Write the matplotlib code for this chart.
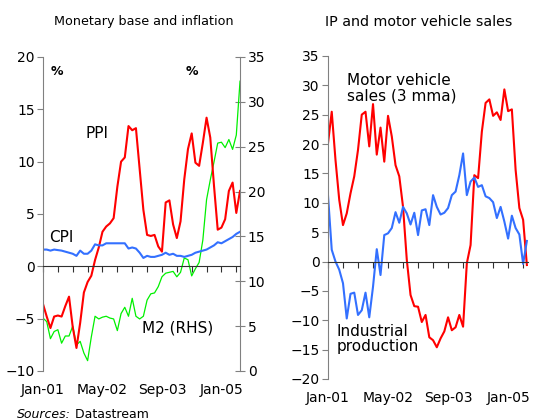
import numpy as np
import matplotlib.pyplot as plt

# monthly data, Jan-01 .. Jun-05
months = np.arange(54)
tick_labels = ['Jan-01', 'May-02', 'Sep-03', 'Jan-05']

# left chart: PPI, CPI (%, LHS), M2 (%, RHS)
ppi = [-3.6, -4.8, -5.9, -4.8, -4.7, -4.8, -3.8, -2.9, -5.8, -7.8,
       -5.4, -2.5, -1.5, -0.9, 0.6, 1.8, 3.3, 3.8, 4.1, 4.6,
       7.6, 10.0, 10.4, 13.4, 13.0, 13.2, 9.3, 5.4, 3.0, 2.9,
       3.0, 1.9, 1.4, 6.1, 6.3, 4.0, 2.7, 4.3, 8.3, 11.2,
       12.7, 9.9, 9.6, 11.8, 14.2, 12.3, 7.7, 3.5, 3.7, 4.5,
       7.2, 8.0, 5.1, 7.2]
cpi = [1.6, 1.6, 1.5, 1.6, 1.55, 1.5, 1.4, 1.3, 1.2, 1.0,
       1.5, 1.2, 1.2, 1.5, 2.1, 2.0, 2.0, 2.2, 2.2, 2.2,
       2.2, 2.2, 2.2, 1.7, 1.8, 1.7, 1.3, 0.8, 1.0, 0.9,
       0.9, 1.0, 1.1, 1.3, 1.1, 1.2, 1.0, 1.0, 0.9, 1.0,
       1.1, 1.3, 1.4, 1.5, 1.6, 1.8, 2.0, 2.3, 2.2, 2.4,
       2.6, 2.8, 3.1, 3.3]
m2 = [5.9, 5.5, 3.6, 4.4, 4.6, 3.1, 3.9, 3.9, 5.0, 2.9,
      3.3, 2.0, 1.15, 3.8, 6.1, 5.8, 6.0, 6.1, 5.9, 5.8,
      4.5, 6.4, 7.1, 6.1, 8.1, 6.1, 5.8, 6.1, 7.9, 8.6,
      8.7, 9.4, 10.5, 10.9, 11.0, 11.1, 10.5, 11.0, 12.6, 12.4,
      10.6, 11.4, 12.1, 14.6, 19.1, 21.3, 23.3, 25.4, 25.5, 24.9,
      25.8, 24.7, 26.3, 32.3]

# right chart: motor vehicle sales (3mma), industrial production
motor = [20.1, 25.5, 17.3, 10.5, 6.2, 8.2, 11.6, 14.5, 19.0, 25.0,
         25.5, 19.6, 26.8, 18.2, 22.8, 17.0, 24.8, 21.3, 16.4, 14.5,
         9.3, 0.3, -5.7, -7.6, -7.7, -10.3, -9.1, -12.9, -13.4, -14.6,
         -13.1, -11.9, -9.5, -11.7, -11.2, -9.1, -11.1, -0.3, 2.8, 14.7,
         14.2, 22.1, 27.0, 27.6, 24.8, 25.4, 24.1, 29.3, 25.6, 25.9,
         15.6, 9.1, 7.1, -0.6]
ip = [11.3, 2.0, 0.0, -1.4, -3.7, -9.7, -5.5, -5.3, -9.1, -8.3,
      -5.3, -9.5, -4.3, 2.1, -2.3, 4.5, 4.8, 5.7, 8.4, 6.6,
      9.3, 8.2, 6.3, 8.3, 4.5, 8.7, 8.9, 6.2, 11.3, 9.3,
      8.0, 8.3, 9.1, 11.3, 11.9, 14.7, 18.4, 11.3, 13.6, 14.3,
      12.7, 13.0, 11.1, 10.8, 10.1, 7.4, 9.3, 6.8, 3.9, 7.8,
      5.7, 4.6, -0.4, 3.5]

RED = '#ff0000'
BLUE = '#3370ff'
GREEN = '#00f000'
GREY = '#808080'

plt.rcParams['font.family'] = 'DejaVu Sans'
fig = plt.figure(figsize=(5.45, 4.19), dpi=100)


def style_x(ax, xmax):
    # tick marks sit on the zero line, labels stay below the plot
    ax.set_xlim(0, xmax)
    ax.spines['top'].set_visible(False)
    ax.spines['bottom'].set_position(('data', 0))
    ax.spines['bottom'].set_color('#303030')
    ax.set_xticks(np.arange(0, 53, 4))
    ax.tick_params(axis='x', direction='out', length=4, color='#303030',
                   labelbottom=False)
    sec = ax.secondary_xaxis('bottom')
    sec.spines['bottom'].set_visible(False)
    sec.set_xticks([0, 16, 32, 48])
    sec.set_xticklabels(tick_labels, fontsize=10)
    sec.tick_params(length=0, pad=9)
    ax.spines['left'].set_color(GREY)
    ax.tick_params(axis='y', labelsize=10, length=4, color=GREY, pad=2)


# ---- left: monetary base and inflation
ax = fig.add_axes([0.0789, 0.1146, 0.3615, 0.7494])
ax2 = ax.twinx()
ax2.plot(months, m2, color=GREEN, lw=0.9)
ax.plot(months, ppi, color=RED, lw=1.5)
ax.plot(months, cpi, color=BLUE, lw=1.5)
ax.set_zorder(ax2.get_zorder() + 1)
ax.patch.set_visible(False)
ax.set_ylim(-10, 20)
ax.set_yticks(np.arange(-10, 21, 5))
style_x(ax, 53)
ax.spines['right'].set_visible(False)
ax2.set_ylim(0, 35)
ax2.set_yticks(np.arange(0, 36, 5))
for s in ['top', 'left', 'bottom']:
    ax2.spines[s].set_visible(False)
ax2.spines['right'].set_color(GREY)
ax2.tick_params(axis='y', labelsize=10, length=7, direction='inout',
                color=GREY, pad=2)

ax.text(0.07, 0.975, '%', transform=ax.transAxes, fontsize=9,
        fontweight='bold', ha='center', va='top')
ax.text(0.755, 0.975, '%', transform=ax.transAxes, fontsize=9,
        fontweight='bold', ha='center', va='top')
ax.text(0.275, 0.755, 'PPI', transform=ax.transAxes, fontsize=11,
        ha='center', va='center')
ax.text(0.03, 0.425, 'CPI', transform=ax.transAxes, fontsize=11,
        ha='left', va='center')
ax.text(0.5, 0.137, 'M2 (RHS)', transform=ax.transAxes, fontsize=11,
        ha='left', va='center')
fig.text(144 / 545, 1 - 22 / 419, 'Monetary base and inflation',
         fontsize=9.2, ha='center', va='center')

# ---- right: IP and motor vehicle sales
bx = fig.add_axes([0.6018, 0.0955, 0.367, 0.771])
bx.plot(months, motor, color=RED, lw=1.5)
bx.plot(months, ip, color=BLUE, lw=1.5)
bx.set_ylim(-20, 35)
bx.set_yticks(np.arange(-20, 36, 5))
style_x(bx, 53.3)
bx.spines['right'].set_visible(False)

bx.text(0.095, 0.9, 'Motor vehicle\nsales (3 mma)', transform=bx.transAxes,
        fontsize=11, ha='left', va='center', linespacing=1.0)
bx.text(0.045, 0.125, 'Industrial\nproduction', transform=bx.transAxes,
        fontsize=11, ha='left', va='center', linespacing=1.0)
fig.text(419 / 545, 1 - 22 / 419, 'IP and motor vehicle sales',
         fontsize=10.3, ha='center', va='center')

src = fig.text(17 / 545, 1 - 414 / 419, 'Sources:', fontsize=9,
               style='italic', ha='left', va='center')
ax.annotate(' Datastream', xy=(1, 0.5), xycoords=src, fontsize=9,
            ha='left', va='center', annotation_clip=False)

fig.savefig('out.png', dpi=100)
